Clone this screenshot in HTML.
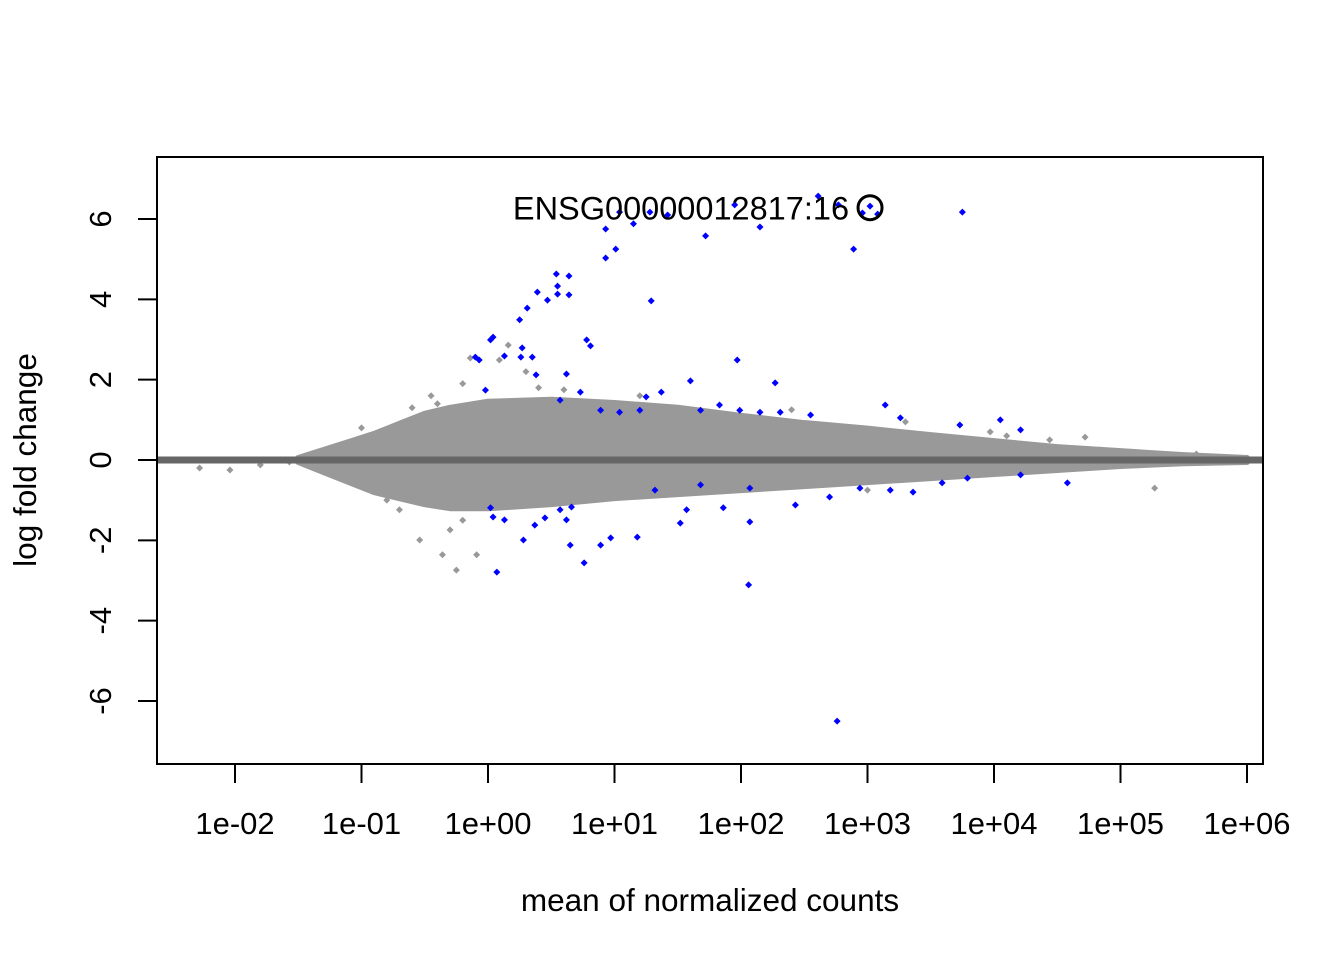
<!DOCTYPE html>
<html><head><meta charset="utf-8"><style>
html,body{margin:0;padding:0;background:#fff}
svg{display:block;font-family:"Liberation Sans",Arial,sans-serif}
</style></head><body>
<svg id="chart" width="1344" height="960" viewBox="0 0 1344 960" xmlns="http://www.w3.org/2000/svg">
<rect width="1344" height="960" fill="#fff"/>
<g id="cloud"></g>
<g id="grayPts"></g>
<line id="zeroLine" x1="157" x2="1263" y1="460" y2="460" stroke="#666" stroke-width="7"/>
<g id="bluePts"></g>
<rect x="157" y="157" width="1106" height="607" fill="none" stroke="#000" stroke-width="2"/>
<g id="xAxis"></g>
<g id="yAxis"></g>
<text x="710" y="911" font-size="31.5" text-anchor="middle">mean of normalized counts</text>
<text transform="translate(36,460) rotate(-90)" font-size="31.5" text-anchor="middle">log fold change</text>
<g id="annot"></g>
</svg>
<script>
// envelope of grey cloud (log10 mean vs lfc)
const envX = [-1.5,-1.3,-1.1,-0.9,-0.7,-0.5,-0.3,0,0.5,1,1.5,2,2.5,3,3.5,4,4.5,5,5.5,6];
const envUpper = [0.05,0.25,0.45,0.65,0.9,1.15,1.3,1.45,1.5,1.42,1.3,1.1,0.92,0.78,0.62,0.47,0.32,0.22,0.12,0.05];
const envLower = [-0.05,-0.3,-0.55,-0.8,-0.95,-1.1,-1.2,-1.2,-1.1,-0.95,-0.85,-0.75,-0.65,-0.55,-0.45,-0.35,-0.25,-0.15,-0.08,-0.05];
const grayX = [-0.36,-0.25,-0.09,0.16,0.09,-0.14,5.27,3.97,4.44,4.72,4.84,5.08,5.43,5.79,-2.28,-2.04,-1.80,-1.57,-0.54,-0.30,-0.70,4.36,-0.2,-0.4,0.3,5.6,6.0,-0.6,-0.45,-0.8,0.6,1.2,2.4,3.3,3.0,4.1,-1.0,-0.2,0.4];
const grayY = [-2.36,-2.74,-2.36,2.86,2.49,2.54,-0.70,0.70,0.50,0.57,0.25,0.2,0.12,0.07,-0.2,-0.25,-0.12,-0.05,-1.99,-1.74,-1.24,-0.12,1.9,1.4,2.2,0.15,0.05,1.3,1.6,-1.0,1.75,1.6,1.25,0.95,-0.75,0.6,0.8,-1.5,1.8];
const blueX = [2.61,2.77,2.96,3.02,3.08,3.75,1.15,0.93,1.04,1.28,1.42,1.95,2.15,1.72,2.89,1.01,0.93,0.54,0.55,0.64,0.55,0.47,0.64,0.39,0.31,0.25,1.29,0.78,0.81,-0.07,-0.10,0.02,0.04,-0.02,0.13,0.27,0.26,0.35,0.38,0.62,1.97,2.27,1.60,1.25,1.37,0.57,0.73,0.89,1.04,1.20,1.68,1.83,1.99,2.15,2.31,2.55,3.14,3.26,3.73,4.05,4.21,
  0.07,0.76,2.06,2.76,0.28,0.37,0.45,0.62,0.65,0.89,0.97,1.18,1.52,1.57,1.86,2.07,2.43,2.70,2.94,3.18,3.36,3.59,3.79,4.21,4.58,0.04,0.02,0.13,0.57,0.66,1.32,1.68,2.07];
const blueY = [6.57,6.35,6.15,6.32,6.12,6.17,5.88,5.75,6.17,6.17,6.10,6.35,5.80,5.58,5.25,5.25,5.03,4.63,4.33,4.58,4.13,3.98,4.11,4.18,3.78,3.49,3.96,2.99,2.84,2.49,2.56,2.99,3.06,1.74,2.59,2.79,2.56,2.56,2.12,2.14,2.49,1.92,1.97,1.57,1.69,1.49,1.69,1.24,1.19,1.24,1.24,1.37,1.24,1.19,1.19,1.12,1.37,1.05,0.87,1.00,0.75,
  -2.79,-2.56,-3.11,-6.50,-1.99,-1.62,-1.44,-1.49,-2.12,-2.12,-1.94,-1.92,-1.57,-1.24,-1.19,-1.54,-1.12,-0.92,-0.70,-0.75,-0.80,-0.57,-0.45,-0.37,-0.57,-1.42,-1.19,-1.49,-1.24,-1.17,-0.75,-0.62,-0.70];
const xTicks = [-2,-1,0,1,2,3,4,5,6];
const xTickLabels = ["1e-02","1e-01","1e+00","1e+01","1e+02","1e+03","1e+04","1e+05","1e+06"];
const yTicks = [-6,-4,-2,0,2,4,6];
const highlightX = [3.02];
const highlightY = [6.28];
const highlightLabel = ["ENSG00000012817:16"];

const NS="http://www.w3.org/2000/svg";
const sx = v => 235 + (v + 2) * 126.5;
const sy = v => 460 - v * 40.17;
function mk(tag, attrs, parent){const e=document.createElementNS(NS,tag);for(const k in attrs)e.setAttribute(k,attrs[k]);parent.appendChild(e);return e;}

const cloud=document.getElementById('cloud');
let pts=[];
envX.forEach((x,i)=>pts.push(sx(x)+','+sy(envUpper[i])));
for(let i=envX.length-1;i>=0;i--)pts.push(sx(envX[i])+','+sy(envLower[i]));
const poly=mk('polygon',{points:pts.join(' '),fill:'#999',stroke:'#999','stroke-width':6,'stroke-linejoin':'round'},cloud);



function diamond(x,y,c,parent,name){
  const X=sx(x),Y=sy(y);
  const p=mk('polygon',{points:`${X},${Y-3.5} ${X+3.5},${Y} ${X},${Y+3.5} ${X-3.5},${Y}`,fill:c},parent);
  
  
}
const gp=document.getElementById('grayPts');
grayX.forEach((x,i)=>diamond(x,grayY[i],'#999',gp,'grey-point'));
const bp=document.getElementById('bluePts');
blueX.forEach((x,i)=>diamond(x,blueY[i],'#0000ff',bp,'blue-point'));

const xa=document.getElementById('xAxis');
xTicks.forEach((t,i)=>{
  const l=mk('line',{x1:sx(t),x2:sx(t),y1:764,y2:783,stroke:'#000','stroke-width':2},xa);
  
  
  const tx=mk('text',{x:sx(t),y:834,'font-size':31,'text-anchor':'middle'},xa);
  tx.textContent=xTickLabels[i];
  
  
});
const ya=document.getElementById('yAxis');
yTicks.forEach(t=>{
  const l=mk('line',{x1:138,x2:157,y1:sy(t),y2:sy(t),stroke:'#000','stroke-width':2},ya);
  
  
  const tx=mk('text',{transform:`translate(111,${sy(t)}) rotate(-90)`,'font-size':31,'text-anchor':'middle'},ya);
  tx.textContent=String(t);
  
  
});

const an=document.getElementById('annot');
const c=mk('circle',{cx:sx(highlightX[0]),cy:sy(highlightY[0]),r:12,fill:'none',stroke:'#000','stroke-width':3},an);


const lt=mk('text',{x:sx(highlightX[0])-21,y:sy(highlightY[0])+12,'font-size':32.5,'text-anchor':'end'},an);
lt.textContent=highlightLabel[0];


</script>
</body></html>
